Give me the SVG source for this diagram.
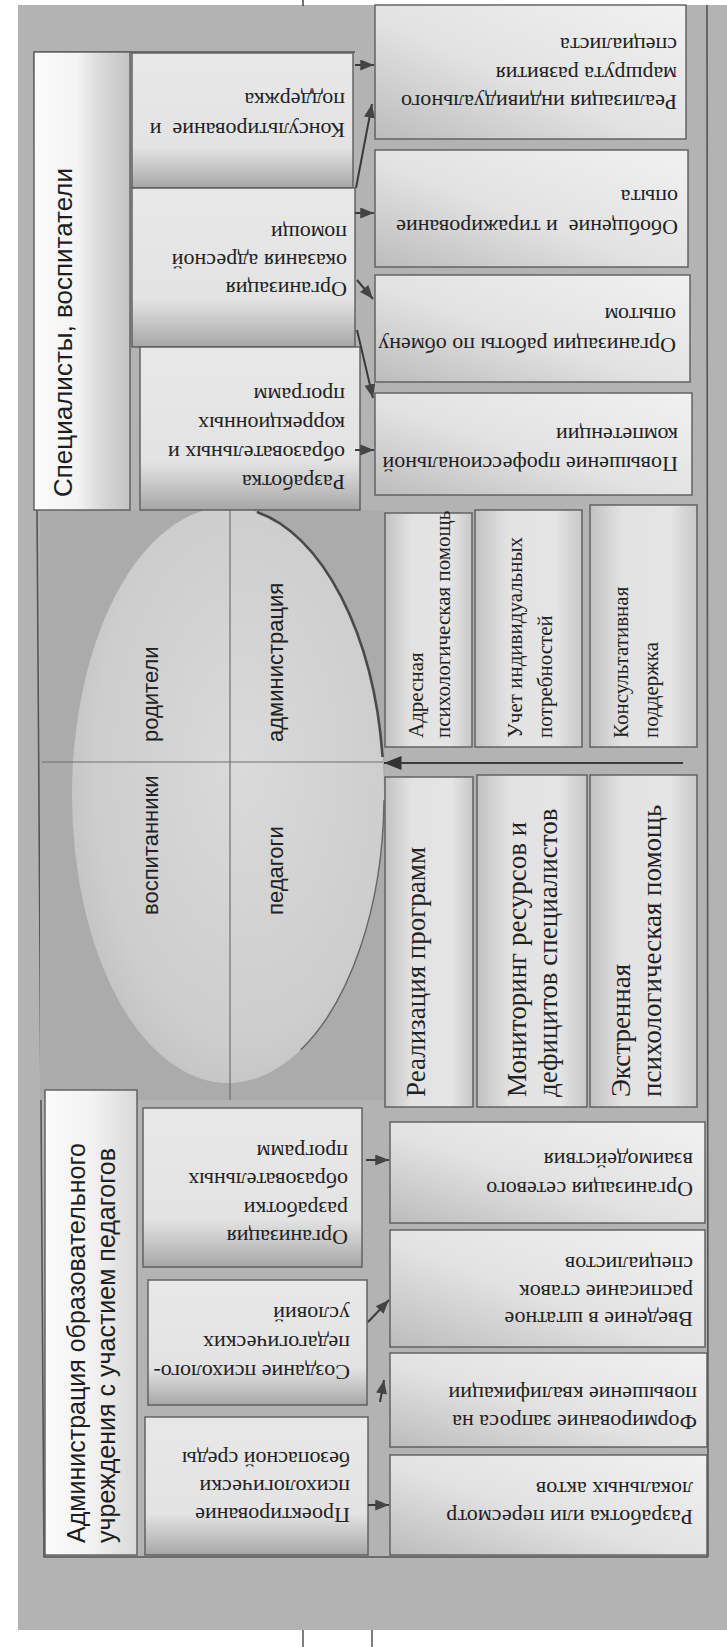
<svg xmlns="http://www.w3.org/2000/svg" width="727" height="1647" viewBox="0 0 727 1647">
<defs>
<style>
.s{font-family:"Liberation Serif","Times New Roman",serif;font-size:22px;fill:#222}
.m{font-family:"Liberation Serif","Times New Roman",serif;font-size:21px;fill:#222}
.l{font-family:"Liberation Serif","Times New Roman",serif;font-size:27px;fill:#222}
.a{font-family:"Liberation Sans",Arial,sans-serif;font-size:25px;fill:#1e1e1e}
.e{font-family:"Liberation Sans",Arial,sans-serif;font-size:22px;fill:#222}
.box{stroke:#5c5c5c;stroke-width:1.4}
.frame{stroke:#555;stroke-width:1.6;fill:none}
.conn{stroke:#3a3a3a;stroke-width:2;fill:none}
.div{stroke:#707070;stroke-width:1.2;fill:none}
</style>
<linearGradient id="gCol2" x1="0" y1="0" x2="0" y2="1">
<stop offset="0" stop-color="#e8e8e8"/><stop offset="0.7" stop-color="#e3e3e3"/><stop offset="0.85" stop-color="#c6c6c6"/><stop offset="1" stop-color="#a6a6a6"/>
</linearGradient>
<linearGradient id="gCol3" x1="1" y1="0" x2="0" y2="1">
<stop offset="0" stop-color="#f1f1f1"/><stop offset="0.55" stop-color="#e2e2e2"/><stop offset="1" stop-color="#bcbcbc"/>
</linearGradient>
<linearGradient id="gMid" x1="0" y1="0" x2="1" y2="0">
<stop offset="0" stop-color="#c2c2c2"/><stop offset="0.3" stop-color="#e2e2e2"/><stop offset="0.75" stop-color="#e5e5e5"/><stop offset="1" stop-color="#c8c8c8"/>
</linearGradient>
<linearGradient id="gLabel" x1="0" y1="0" x2="1" y2="0">
<stop offset="0" stop-color="#fbfbfb"/><stop offset="0.5" stop-color="#f3f3f3"/><stop offset="1" stop-color="#d8d8d8"/>
</linearGradient>
<linearGradient id="gLabel2" x1="0" y1="0" x2="1" y2="0">
<stop offset="0" stop-color="#fbfbfb"/><stop offset="0.45" stop-color="#f4f4f4"/><stop offset="0.7" stop-color="#d9d9d9"/><stop offset="1" stop-color="#c4c4c4"/>
</linearGradient>
<radialGradient id="gEll" cx="0.55" cy="0.45" r="0.6">
<stop offset="0" stop-color="#dadada"/><stop offset="0.8" stop-color="#cdcdcd"/><stop offset="1" stop-color="#c2c2c2"/>
</radialGradient>
<clipPath id="clipPanel"><rect x="40" y="510" width="345" height="590"/></clipPath>
<marker id="ah" viewBox="0 0 10 8" refX="10" refY="4" markerWidth="14" markerHeight="11" markerUnits="userSpaceOnUse" orient="auto"><path d="M0,0 L10,4 L0,8 z" fill="#444"/></marker>
<marker id="ahB" viewBox="0 0 10 8" refX="10" refY="4" markerWidth="18" markerHeight="14" markerUnits="userSpaceOnUse" orient="auto"><path d="M0,0 L10,4 L0,8 z" fill="#333"/></marker>
</defs>

<rect width="727" height="1647" fill="#ffffff"/>
<rect x="18" y="5" width="709" height="1625" fill="#b3b3b3"/>
<line x1="303" y1="0" x2="303" y2="6" stroke="#444" stroke-width="1.5"/>
<line x1="303" y1="1630" x2="303" y2="1647" stroke="#555" stroke-width="1.5"/>
<line x1="372" y1="1630" x2="372" y2="1647" stroke="#555" stroke-width="1.5"/>

<!-- outer frame -->
<path class="frame" d="M34,52 L44,1557 L708,1557 M707,5 L708,1557 M34,52 L355,52"/>

<!-- ellipse panel -->
<g id="node-center">
<rect x="40" y="510" width="345" height="590" fill="#ababab"/>
<g clip-path="url(#clipPanel)">
<ellipse cx="228" cy="795" rx="156" ry="288" fill="url(#gEll)"/>
</g>
<line class="div" x1="42" y1="762" x2="383" y2="762"/>
<line class="div" x1="230" y1="510" x2="230" y2="1100"/>
<path d="M256.9,512 A156,288 0 0 1 382.6,757" fill="none" stroke="#4a4a4a" stroke-width="2.6"/>
<path d="M384,800 A156,288 0 0 1 300.6,1050" fill="none" stroke="#666" stroke-width="1.4"/>
<text class="e" transform="translate(158,742) rotate(-90)">родители</text>
<text class="e" transform="translate(158,915) rotate(-90)">воспитанники</text>
<text class="e" transform="translate(283,742) rotate(-90)">администрация</text>
<text class="e" transform="translate(283,915) rotate(-90)">педагоги</text>
</g>

<!-- Specialists label -->
<g id="node-spec-label">
<rect class="box" x="34" y="52" width="96" height="458" fill="url(#gLabel2)"/>
<text class="a" style="font-size:26px" transform="translate(72,497) rotate(-90)">Специалисты, воспитатели</text>
</g>

<!-- column 2 top -->
<g id="node-konsult">
<rect class="box" x="132" y="53" width="221" height="135" fill="url(#gCol2)"/>
<text class="s" xml:space="preserve" transform="translate(345,123) rotate(180)"><tspan x="0" y="0">Консультирование  и</tspan><tspan x="0" dy="30">поддержка</tspan></text>
</g>
<g id="node-org-help">
<rect class="box" x="132" y="188" width="223" height="159" fill="url(#gCol2)"/>
<text class="s" transform="translate(347,282) rotate(180)"><tspan x="0" y="0">Организация</tspan><tspan x="0" dy="28">оказания адресной</tspan><tspan x="0" dy="28">помощи</tspan></text>
</g>
<g id="node-razrab">
<rect class="box" x="140" y="347" width="220" height="163" fill="url(#gCol2)"/>
<text class="s" transform="translate(345,475) rotate(180)"><tspan x="0" y="0">Разработка</tspan><tspan x="0" dy="29">образовательных и</tspan><tspan x="0" dy="29">коррекционных</tspan><tspan x="0" dy="29">программ</tspan></text>
</g>

<!-- column 3 top -->
<g id="node-route">
<rect class="box" x="375" y="5" width="311" height="134" fill="url(#gCol3)"/>
<text class="s" transform="translate(677,95) rotate(180)"><tspan x="0" y="0">Реализация индивидуального</tspan><tspan x="0" dy="28.5">маршрута развития</tspan><tspan x="0" dy="28.5">специалиста</tspan></text>
</g>
<g id="node-obobsh">
<rect class="box" x="375" y="150" width="313" height="117" fill="url(#gCol3)"/>
<text class="s" xml:space="preserve" transform="translate(678,220) rotate(180)"><tspan x="0" y="0">Обобщение  и тиражирование</tspan><tspan x="0" dy="30">опыта</tspan></text>
</g>
<g id="node-obmen">
<rect class="box" x="375" y="275" width="315" height="107" fill="url(#gCol3)"/>
<text class="s" transform="translate(676,338) rotate(180)"><tspan x="0" y="0">Организации работы по обмену</tspan><tspan x="0" dy="30">опытом</tspan></text>
</g>
<g id="node-povysh">
<rect class="box" x="375" y="393" width="317" height="102" fill="url(#gCol3)"/>
<text class="s" transform="translate(678,457) rotate(180)"><tspan x="0" y="0">Повышение профессиональной</tspan><tspan x="0" dy="29">компетенции</tspan></text>
</g>

<!-- middle boxes -->
<g id="node-adres">
<rect class="box" x="385" y="513" width="87" height="234" fill="url(#gMid)"/>
<text class="m" transform="translate(423,738) rotate(-90)"><tspan x="0" y="0">Адресная</tspan><tspan x="0" dy="27">психологическая помощь</tspan></text>
</g>
<g id="node-uchet">
<rect class="box" x="475" y="510" width="107" height="237" fill="url(#gMid)"/>
<text class="m" transform="translate(522,738) rotate(-90)"><tspan x="0" y="0">Учет индивидуальных</tspan><tspan x="0" dy="30">потребностей</tspan></text>
</g>
<g id="node-konsult2">
<rect class="box" x="590" y="505" width="107" height="242" fill="url(#gMid)"/>
<text class="m" transform="translate(628,738) rotate(-90)"><tspan x="0" y="0">Консультативная</tspan><tspan x="0" dy="30">поддержка</tspan></text>
</g>
<g id="node-realiz">
<rect class="box" x="385" y="777" width="88" height="330" fill="url(#gMid)"/>
<text class="l" transform="translate(425,1097) rotate(-90)">Реализация программ</text>
</g>
<g id="node-monitor">
<rect class="box" x="477" y="775" width="110" height="332" fill="url(#gMid)"/>
<text class="l" transform="translate(526,1097) rotate(-90)"><tspan x="0" y="0">Мониторинг ресурсов и</tspan><tspan x="0" dy="31">дефицитов специалистов</tspan></text>
</g>
<g id="node-ekstr">
<rect class="box" x="590" y="775" width="107" height="332" fill="url(#gMid)"/>
<text class="l" transform="translate(630,1097) rotate(-90)"><tspan x="0" y="0">Экстренная</tspan><tspan x="0" dy="31">психологическая помощь</tspan></text>
</g>

<!-- Administration label -->
<g id="node-admin-label">
<rect class="box" x="45" y="1090" width="92" height="465" fill="url(#gLabel)"/>
<text class="a" transform="translate(85,1543) rotate(-90)"><tspan x="0" y="0">Администрация образовательного</tspan><tspan x="0" dy="30">учреждения с участием педагогов</tspan></text>
</g>

<!-- column 2 bottom -->
<g id="node-org-razrab">
<rect class="box" x="143" y="1108" width="219" height="159" fill="url(#gCol2)"/>
<text class="s" transform="translate(348,1230) rotate(180)"><tspan x="0" y="0">Организация</tspan><tspan x="0" dy="28.5">разработки</tspan><tspan x="0" dy="28.5">образовательных</tspan><tspan x="0" dy="28.5">программ</tspan></text>
</g>
<g id="node-sozdanie">
<rect class="box" x="148" y="1280" width="219" height="125" fill="url(#gCol2)"/>
<text class="s" transform="translate(350,1365) rotate(180)"><tspan x="0" y="0">Создание психолого-</tspan><tspan x="0" dy="29">педагогических</tspan><tspan x="0" dy="29">условий</tspan></text>
</g>
<g id="node-proekt">
<rect class="box" x="145" y="1417" width="223" height="138" fill="url(#gCol2)"/>
<text class="s" transform="translate(350,1508) rotate(180)"><tspan x="0" y="0">Проектирование</tspan><tspan x="0" dy="28">психологически</tspan><tspan x="0" dy="28">безопасной среды</tspan></text>
</g>

<!-- column 3 bottom -->
<g id="node-set">
<rect class="box" x="390" y="1122" width="315" height="101" fill="url(#gCol3)"/>
<text class="s" transform="translate(693,1182) rotate(180)"><tspan x="0" y="0">Организация сетевого</tspan><tspan x="0" dy="29">взаимодействия</tspan></text>
</g>
<g id="node-vvedenie">
<rect class="box" x="390" y="1230" width="315" height="117" fill="url(#gCol3)"/>
<text class="s" transform="translate(693,1312) rotate(180)"><tspan x="0" y="0">Введение в штатное</tspan><tspan x="0" dy="27.5">расписание ставок</tspan><tspan x="0" dy="27.5">специалистов</tspan></text>
</g>
<g id="node-zapros">
<rect class="box" x="390" y="1353" width="317" height="94" fill="url(#gCol3)"/>
<text class="s" transform="translate(697,1415) rotate(180)"><tspan x="0" y="0">Формирование запроса на</tspan><tspan x="0" dy="28">повышение квалификации</tspan></text>
</g>
<g id="node-akty">
<rect class="box" x="390" y="1455" width="317" height="100" fill="url(#gCol3)"/>
<text class="s" transform="translate(693,1510) rotate(180)"><tspan x="0" y="0">Разработка или пересмотр</tspan><tspan x="0" dy="28">локальных актов</tspan></text>
</g>

<!-- connectors -->
<g id="connectors">
<path class="conn" d="M355,65 L374,65" marker-end="url(#ah)"/>
<path class="conn" d="M356,188 L372,104" marker-end="url(#ah)"/>
<path class="conn" d="M355,213 L374,213" marker-end="url(#ah)"/>
<path class="conn" d="M357,280 L373,299" marker-end="url(#ah)"/>
<path class="conn" d="M357,330 L373,398" marker-end="url(#ah)"/>
<path class="conn" d="M355,450 L374,450" marker-end="url(#ah)"/>
<path class="conn" d="M683,763 L384,763" stroke-width="3" marker-end="url(#ahB)"/>
<path class="conn" d="M366,1160 L389,1160" marker-end="url(#ah)"/>
<path class="conn" d="M368,1322 L389,1300" marker-end="url(#ah)"/>
<path class="conn" d="M380,1402 L384,1380" marker-end="url(#ah)"/>
<path class="conn" d="M368,1505 L389,1505" marker-end="url(#ah)"/>
</g>
</svg>
